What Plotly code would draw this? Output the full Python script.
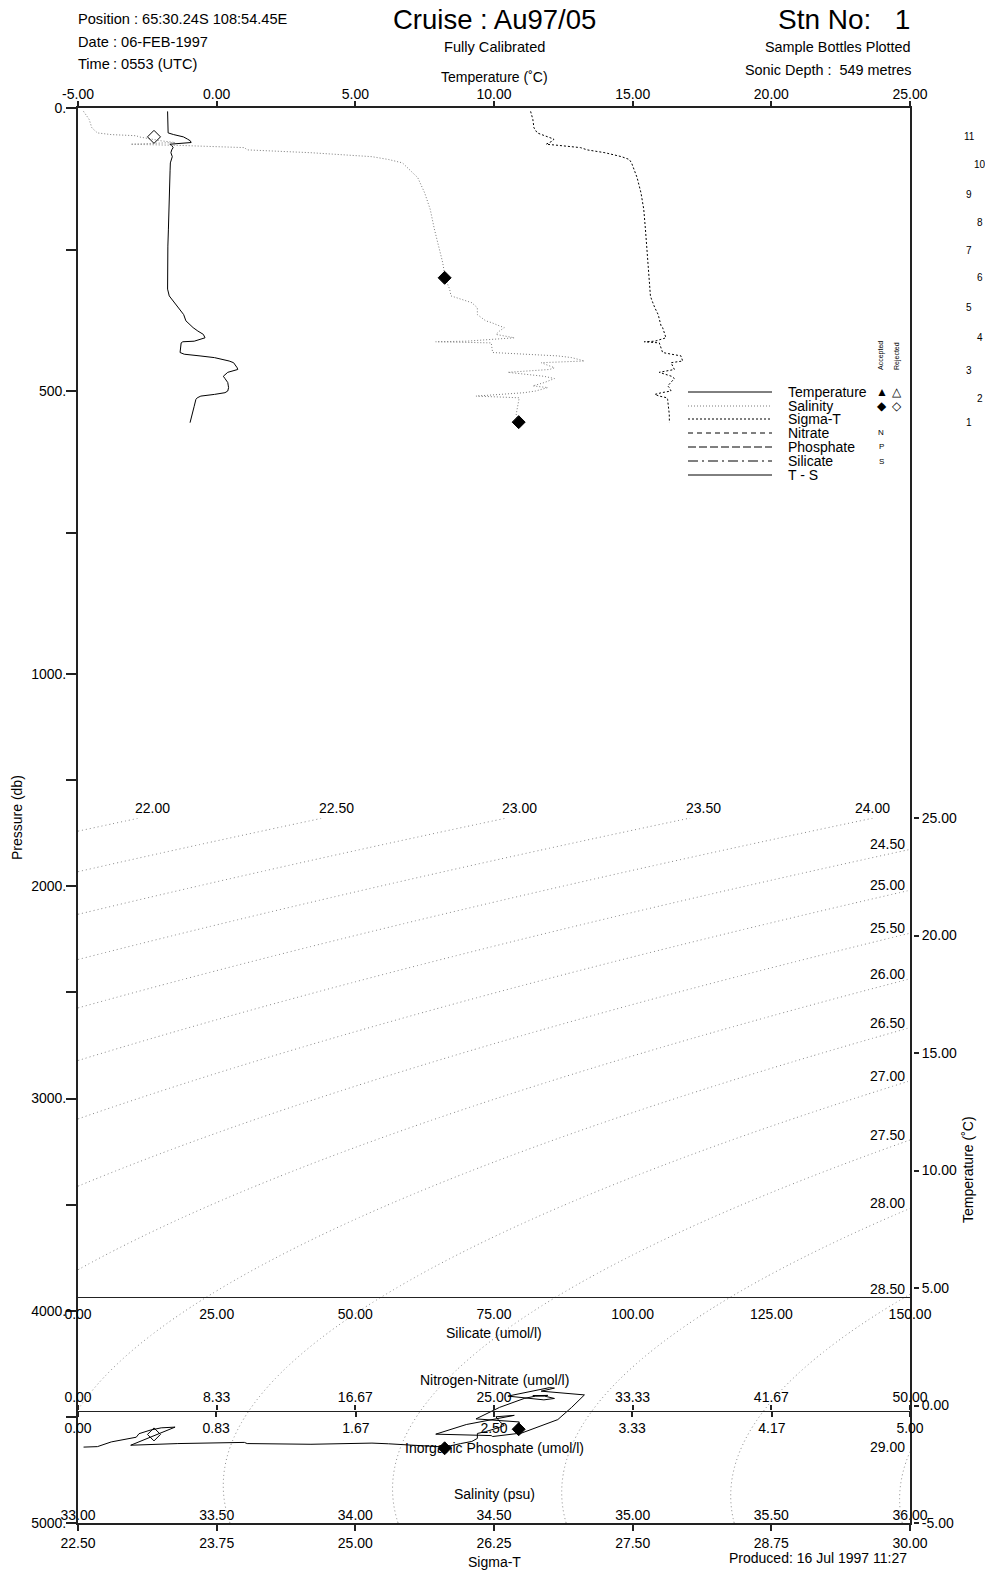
import numpy as np
import plotly.graph_objects as go

W, H = 985, 1573

# ---------------- CTD profile, station 1 ----------------
pressure = [6, 20, 35, 44, 47, 49, 51, 55, 58, 61, 64, 66, 70, 74, 79, 86, 91, 97,
            111, 123, 150, 179, 214, 244, 273, 302, 320, 332, 338, 344, 353, 365,
            376, 379, 385, 388, 394, 400, 406, 412, 413, 415, 432, 435, 438, 441,
            447, 450, 459, 462, 467, 474, 478, 485, 491, 494, 500, 503, 506, 509,
            512, 515, 527, 541, 556]

temperature = [-1.77, -1.77, -1.77, -1.75, -1.55, -1.35, -1.20, -1.05, -0.95, -0.92,
               -1.69, -1.62, -1.57, -1.62, -1.65, -1.60, -1.63, -1.67, -1.68, -1.69,
               -1.71, -1.72, -1.74, -1.76, -1.77, -1.77, -1.77, -1.71, -1.62, -1.53,
               -1.40, -1.19, -1.11, -1.05, -0.93, -0.85, -0.68, -0.48, -0.42, -0.81,
               -1.22, -1.28, -1.32, -1.17, -0.60, -0.08, 0.45, 0.61, 0.74, 0.76,
               0.40, 0.24, 0.30, 0.40, 0.42, 0.43, 0.40, 0.30, -0.08, -0.57,
               -0.70, -0.75, -0.81, -0.89, -0.96]

salinity = [33.02, 33.04, 33.05, 33.07, 33.12, 33.21, 33.22, 33.26, 33.30, 33.35,
            33.19, 33.36, 33.60, 33.61, 33.84, 34.06, 34.12, 34.17, 34.20, 34.225,
            34.25, 34.27, 34.285, 34.30, 34.315, 34.325, 34.34, 34.345, 34.38, 34.42,
            34.44, 34.44, 34.47, 34.49, 34.52, 34.537, 34.52, 34.507, 34.573, 34.40,
            34.29, 34.49, 34.495, 34.60, 34.73, 34.78, 34.826, 34.67, 34.718, 34.70,
            34.55, 34.68, 34.718, 34.682, 34.64, 34.694, 34.65, 34.609, 34.52, 34.435,
            34.591, 34.59, 34.586, 34.58, 34.588]

sigma_t = [26.58, 26.60, 26.61, 26.64, 26.68, 26.71, 26.74, 26.79, 26.78, 26.75,
           26.72, 26.83, 27.03, 27.09, 27.25, 27.40, 27.47, 27.49, 27.52, 27.54,
           27.575, 27.60, 27.615, 27.625, 27.636, 27.645, 27.65, 27.66, 27.67, 27.68,
           27.70, 27.73, 27.745, 27.75, 27.756, 27.77, 27.78, 27.79, 27.80, 27.70,
           27.605, 27.74, 27.77, 27.85, 27.936, 27.94, 27.951, 27.846, 27.87, 27.876,
           27.74, 27.85, 27.876, 27.84, 27.816, 27.83, 27.846, 27.76, 27.70, 27.74,
           27.81, 27.815, 27.822, 27.83, 27.831]

# ---------------- Bottle samples ----------------
bottle_number = [1, 2, 3, 4, 5, 6, 7, 8, 9, 10, 11]
bottle_pressure = [555, 514, 463, 406, 352, 300, 251, 203, 152, 100, 51]

sal_bottle_p = [51, 300, 555]
sal_bottle_s = [33.274, 34.322, 34.589]
sal_bottle_t = [-1.23, -1.82, -1.01]
sal_bottle_ok = [False, True, True]

# ---------------- Axis tick values ----------------
temp_ticks = [-5, 0, 5, 10, 15, 20, 25]
sal_ticks = [33.0, 33.5, 34.0, 34.5, 35.0, 35.5, 36.0]
sig_ticks = [22.5, 23.75, 25.0, 26.25, 27.5, 28.75, 30.0]
nitrate_ticks = [0, 8.33, 16.67, 25.0, 33.33, 41.67, 50.0]
phosphate_ticks = [0, 0.83, 1.67, 2.50, 3.33, 4.17, 5.0]
silicate_ticks = [0, 25, 50, 75, 100, 125, 150]
ts_temp_ticks = [-5, 0, 5, 10, 15, 20, 25]
p_top_ticks = [0, 250, 500, 750, 1000]
p_top_text = ["0.", "", "500.", "", "1000."]
p_bot_ticks = [1500, 2000, 2500, 3000, 3500, 4000, 4500, 5000]
p_bot_text = ["", "2000.", "", "3000.", "", "4000.", "", "5000."]
isopycnal_levels = [22.0 + 0.5 * i for i in range(15)]


def sigma_t_unesco(s, t):
    """Density anomaly (kg/m3) of seawater at atmospheric pressure, UNESCO 1983."""
    rw = (999.842594 + 6.793952e-2 * t - 9.095290e-3 * t ** 2 + 1.001685e-4 * t ** 3
          - 1.120083e-6 * t ** 4 + 6.536332e-9 * t ** 5)
    a = 8.24493e-1 - 4.0899e-3 * t + 7.6438e-5 * t ** 2 - 8.2467e-7 * t ** 3 + 5.3875e-9 * t ** 4
    b = -5.72466e-3 + 1.0227e-4 * t - 1.6546e-6 * t ** 2
    c = 4.8314e-4
    return rw + a * s + b * s ** 1.5 + c * s ** 2 - 1000.0


def fx(px):
    return px / W


def fy(py):
    return 1 - py / H


def fmt(v):
    return f"{v:.2f}"


X0, X1 = 78, 910          # plot frame left / right (px)
Y0, Y1000, YB = 108, 674, 1523
TS_TOP = 818
FONT = "Liberation Sans, Arial, sans-serif"
AX = "#222222"

fig = go.Figure()

# ---- isopycnals behind the T-S curve ----
s_grid = np.linspace(33.0, 36.0, 241)
t_grid = np.linspace(-5.0, 25.0, 241)
SS, TT = np.meshgrid(s_grid, t_grid)
fig.add_trace(go.Contour(
    x=s_grid, y=t_grid, z=sigma_t_unesco(SS, TT),
    xaxis="x2", yaxis="y3",
    contours=dict(start=isopycnal_levels[0], end=isopycnal_levels[-1], size=0.5,
                  coloring="lines", showlabels=False),
    colorscale=[[0, "#8a8a8a"], [1, "#8a8a8a"]],
    line=dict(width=1, dash="1px,3px"),
    showscale=False, hoverinfo="skip",
))

# ---- profiles against pressure ----
fig.add_trace(go.Scatter(x=temperature, y=pressure, xaxis="x", yaxis="y", mode="lines",
                         line=dict(color="black", width=1), name="Temperature"))
fig.add_trace(go.Scatter(x=salinity, y=pressure, xaxis="x2", yaxis="y", mode="lines",
                         line=dict(color="#7a7a7a", width=1, dash="1px,2px"), name="Salinity"))
fig.add_trace(go.Scatter(x=sigma_t, y=pressure, xaxis="x3", yaxis="y", mode="lines",
                         line=dict(color="black", width=1, dash="2px,2px"), name="Sigma-T"))

# ---- T-S curve ----
fig.add_trace(go.Scatter(x=salinity, y=temperature, xaxis="x2", yaxis="y3", mode="lines",
                         line=dict(color="black", width=1), name="T - S"))

# ---- salinity bottles (profile and T-S) ----
symbols = ["diamond" if ok else "diamond-open" for ok in sal_bottle_ok]
fig.add_trace(go.Scatter(x=sal_bottle_s, y=sal_bottle_p, xaxis="x2", yaxis="y", mode="markers",
                         marker=dict(symbol=symbols, size=10, color="black",
                                     line=dict(color="black", width=1))))
fig.add_trace(go.Scatter(x=sal_bottle_s, y=sal_bottle_t, xaxis="x2", yaxis="y3", mode="markers",
                         marker=dict(symbol=symbols, size=10, color="black",
                                     line=dict(color="black", width=1))))

# empty traces so the nutrient axes get drawn
for ax in ["x4", "x5", "x6"]:
    fig.add_trace(go.Scatter(x=[None], y=[None], xaxis=ax, yaxis="y2", mode="lines",
                             hoverinfo="skip"))

dom = [fx(X0), fx(X1)]
tickfont = dict(family=FONT, size=14, color="black")
common = dict(showgrid=False, zeroline=False, tickfont=tickfont, linecolor=AX,
              tickcolor=AX, tickwidth=1.5)

fig.update_layout(
    width=W, height=H, margin=dict(l=0, r=0, t=0, b=0, autoexpand=False),
    paper_bgcolor="white", plot_bgcolor="rgba(0,0,0,0)", showlegend=False,
    font=dict(family=FONT, size=14, color="black"),
    xaxis=dict(domain=dom, range=[-5, 25], anchor="y", side="top", showline=True,
               linewidth=2, ticks="outside", ticklen=5, ticklabelstandoff=-4,
               tickvals=temp_ticks, ticktext=[fmt(v) for v in temp_ticks], **common),
    yaxis=dict(domain=[fy(Y1000), fy(Y0)], range=[1000, 0], anchor="x", showline=True,
               linewidth=2, mirror=True, ticks="outside", ticklen=10, ticklabelstandoff=-3,
               tickvals=p_top_ticks, ticktext=p_top_text, **common),
    yaxis2=dict(domain=[fy(YB), fy(Y1000)], range=[5000, 1000], anchor="x", showline=True,
                linewidth=2, mirror=True, ticks="outside", ticklen=10, ticklabelstandoff=-3,
                tickvals=p_bot_ticks, ticktext=p_bot_text, **common),
    xaxis2=dict(domain=dom, range=[33, 36], anchor="y2", side="bottom", showline=True,
                linewidth=2, ticks="", ticklabelposition="inside", ticklabeloverflow="allow",
                tickvals=sal_ticks, ticktext=[fmt(v) for v in sal_ticks], **common),
    xaxis3=dict(domain=dom, range=[22.5, 30], anchor="y2", side="bottom", showline=False,
                ticks="outside", ticklen=7, tickvals=sig_ticks,
                ticktext=[fmt(v) for v in sig_ticks], **common),
    xaxis4=dict(domain=dom, range=[0, 50], anchor="free", position=fy(1410.5), side="top",
                showline=True, linewidth=1.2, ticks="outside", ticklen=5, ticklabelstandoff=-2,
                tickvals=nitrate_ticks, ticktext=[fmt(v) for v in nitrate_ticks], **common),
    xaxis5=dict(domain=dom, range=[0, 5], anchor="free", position=fy(1410.5), side="bottom",
                showline=False, ticks="outside", ticklen=5,
                tickvals=phosphate_ticks, ticktext=[fmt(v) for v in phosphate_ticks], **common),
    xaxis6=dict(domain=dom, range=[0, 150], anchor="free", position=fy(1297), side="bottom",
                showline=True, linewidth=1.2, ticks="", ticklabelstandoff=4,
                tickvals=silicate_ticks, ticktext=[fmt(v) for v in silicate_ticks], **common),
    yaxis3=dict(domain=[fy(YB), fy(TS_TOP)], range=[-5, 25], anchor="free", position=fx(913),
                side="right", showline=False, ticks="outside", ticklen=5,
                tickvals=ts_temp_ticks, ticktext=[fmt(v) for v in ts_temp_ticks], **common),
)

ann = []


def text(t, x, y, size=14, xanchor="center", yanchor="middle", xref="paper", yref="paper",
         angle=0, **kw):
    ann.append(dict(text=t, x=x, y=y, xref=xref, yref=yref, xanchor=xanchor, yanchor=yanchor,
                    showarrow=False, textangle=angle,
                    font=dict(family=FONT, size=size, color="black"), **kw))


# header
text("Position : 65:30.24S 108:54.45E", fx(76), fy(19), 14.6, "left")
text("Date", fx(76), fy(42), 14.6, "left")
text(": 06-FEB-1997", fx(111), fy(42), 14.6, "left")
text("Time", fx(76), fy(64), 14.6, "left")
text(": 0553 (UTC)", fx(111), fy(64), 14.6, "left")
text("Cruise : Au97/05", fx(494), fy(19), 27.5)
text("Fully Calibrated", fx(494), fy(47), 14.6)
text("Stn No:\u00a0\u00a0 1", fx(912), fy(19), 28, "right")
text("Sample Bottles Plotted", fx(913), fy(47), 14.4, "right")
text("Sonic Depth :\u00a0 549 metres", fx(913), fy(70), 14.4, "right")

# axis titles
text("Temperature (˚C)", fx(494), fy(77), 14)
text("Pressure (db)", fx(17), fy(818), 14, angle=-90)
text("Silicate (umol/l)", fx(494), fy(1333), 14)
text("Nitrogen-Nitrate (umol/l)", fx(494), fy(1380), 14)
text("Inorganic Phosphate (umol/l)", fx(494), fy(1448), 14)
text("Salinity (psu)", fx(494), fy(1494), 14)
text("Sigma-T", fx(494), fy(1562), 14)
text("Temperature (˚C)", fx(968), fy(1170), 14, angle=-90)
text("Produced: 16 Jul 1997 11:27", fx(909), fy(1558), 14, "right")

# isopycnal labels: top edge (T = 25) and right edge (S = 36)
s_fine = np.linspace(33.0, 36.0, 6001)
t_fine = np.linspace(-5.0, 25.0, 6001)
sig_top = sigma_t_unesco(s_fine, 25.0)
sig_right = sigma_t_unesco(36.0, t_fine)
for lev in isopycnal_levels:
    if sig_top[0] <= lev <= sig_top[-1]:
        s_cross = float(np.interp(lev, sig_top, s_fine))
        px_cross = X0 + (s_cross - 33.0) / 3.0 * (X1 - X0)
        shift = min(13.0, (X1 - 37) - px_cross)
        text(fmt(lev), s_cross, 25, 14, "center", "bottom", xref="x2", yref="y3", xshift=shift)
    else:
        t_cross = float(np.interp(lev, sig_right[::-1], t_fine[::-1]))
        text(fmt(lev), 36, t_cross, 14, "right", "middle", xref="x2", yref="y3",
             xshift=-3, yshift=5)

# bottle numbers at the right margin
for n, p in zip(bottle_number, bottle_pressure):
    text(str(n), fx(969 if n % 2 else 980), p, 10, "center", "middle", yref="y")

# legend
legend_rows = [
    ("Temperature", dict(color="black", width=1, dash="solid")),
    ("Salinity", dict(color="#7a7a7a", width=1, dash="1px,2px")),
    ("Sigma-T", dict(color="black", width=1, dash="2px,2px")),
    ("Nitrate", dict(color="black", width=1, dash="5px,4px")),
    ("Phosphate", dict(color="black", width=1, dash="8px,3px")),
    ("Silicate", dict(color="black", width=1, dash="10px,4px,2px,4px")),
    ("T - S", dict(color="black", width=1, dash="solid")),
]
legend_y = [392, 406, 419, 433, 447, 461, 475]
shapes = []
for (name, ln), ly in zip(legend_rows, legend_y):
    shapes.append(dict(type="line", xref="paper", yref="paper", x0=fx(688), x1=fx(772),
                       y0=fy(ly), y1=fy(ly), line=ln))
    text(name, fx(786), fy(ly), 14, "left")
text("Accepted", fx(881), fy(356), 7, angle=-90)
text("Rejected", fx(897), fy(356), 7, angle=-90)
text("▲", fx(882), fy(392), 12)
text("△", fx(897), fy(392), 12)
text("◆", fx(882), fy(406), 12)
text("◇", fx(897), fy(406), 12)
text("N", fx(881), fy(433), 8)
text("P", fx(881), fy(447), 8)
text("S", fx(881), fy(461), 8)

fig.update_layout(annotations=ann, shapes=shapes)
fig.write_html("out.html")
